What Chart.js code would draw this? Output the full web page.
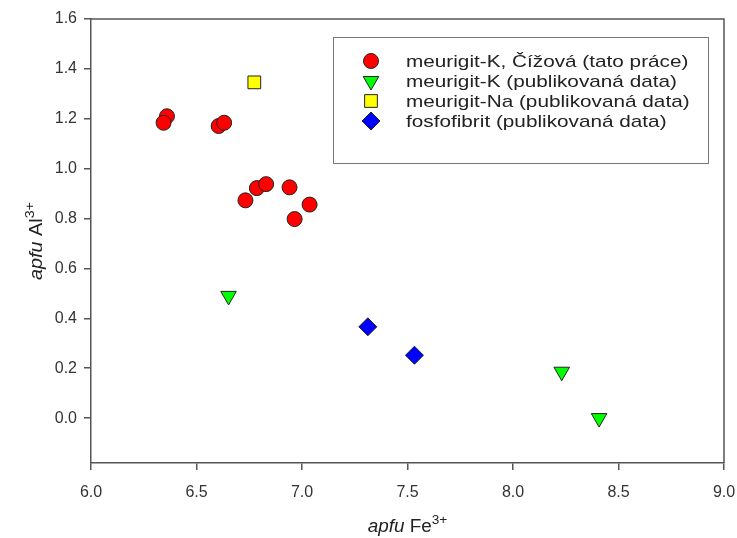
<!DOCTYPE html>
<html>
<head>
<meta charset="utf-8">
<script src="https://cdn.jsdelivr.net/npm/chart.js@4"></script>
<style>
  html, body { margin: 0; padding: 0; background: #fff; }
  #wrap { width: 737px; height: 538px; }
</style>
</head>
<body>
<div id="wrap"><canvas id="graf"></canvas></div>
<script>
// meurigit-K z Čížové + publikovaná data
const cizovaFe = [6.36, 6.344, 6.605, 6.631, 6.732, 6.786, 6.83, 6.941, 6.965, 7.036]
const cizovaAl = [1.21, 1.184, 1.171, 1.184, 0.873, 0.922, 0.938, 0.925, 0.798, 0.856]

const meurKFe = [6.652, 8.231, 8.408]
const meurKAl = [0.49, 0.186, 0.0]

const meurNaFe = [6.774]
const meurNaAl = [1.346]

const fosfoFe = [7.312, 7.533]
const fosfoAl = [0.366, 0.252]

const xTicks = [6.0, 6.5, 7.0, 7.5, 8.0, 8.5, 9.0]
const yTicks = [0.0, 0.2, 0.4, 0.6, 0.8, 1.0, 1.2, 1.4, 1.6]

const pary = (xs, ys) => xs.map((x, i) => ({ x, y: ys[i] }))

const PISMO = '"Liberation Sans", Arial, sans-serif'
Chart.defaults.font.family = PISMO
Chart.defaults.color = '#333'

// legenda uvnitř grafu (rámeček vpravo nahoře)
const legendaUvnitr = {
  id: 'legendaUvnitr',
  afterDraw(chart) {
    const c = chart.ctx
    c.save()
    c.strokeStyle = '#777'
    c.lineWidth = 1
    c.strokeRect(333.5, 37.5, 375, 126)
    c.textBaseline = 'middle'
    chart.data.datasets.forEach((ds, i) => {
      const y = 61 + i * 20
      c.fillStyle = ds.backgroundColor
      c.strokeStyle = ds.borderColor
      c.lineWidth = ds.borderWidth
      Chart.helpers.drawPoint(c, {
        pointStyle: ds.pointStyle,
        rotation: ds.rotation || 0,
        radius: ds.pointRadius,
        borderWidth: ds.borderWidth
      }, 371, y)
      // text je v předloze širší, proto vodorovné roztažení
      c.save()
      c.translate(406, y + 1)
      c.scale(1.22, 1)
      c.font = '17px ' + PISMO
      c.fillStyle = '#222'
      c.fillText(ds.label, 0, 0)
      c.restore()
    })
    c.restore()
  }
}

// rámeček (horní a pravá strana) + popisky os s horním indexem
const ramecek = {
  id: 'ramecek',
  beforeDatasetsDraw(chart) {
    const { left, right, top, bottom } = chart.chartArea
    const c = chart.ctx
    c.save()
    c.strokeStyle = '#555'
    c.lineWidth = 1.5
    c.beginPath()
    c.moveTo(left, top)
    c.lineTo(right, top)
    c.lineTo(right, bottom)
    c.stroke()
    c.restore()
  },
  afterDraw(chart) {
    const c = chart.ctx
    const { left, right, top, bottom } = chart.chartArea
    const popis = (jednotka, prvek) => {
      c.font = 'italic 18px ' + PISMO
      const w1 = c.measureText(jednotka + ' ').width
      c.font = '18px ' + PISMO
      const w2 = c.measureText(prvek).width
      c.font = '13px ' + PISMO
      const w3 = c.measureText('3+').width
      let px = -(w1 + w2 + w3) / 2
      c.textBaseline = 'alphabetic'
      c.textAlign = 'left'
      c.fillStyle = '#222'
      c.font = 'italic 18px ' + PISMO
      c.fillText(jednotka + ' ', px, 0)
      px += w1
      c.font = '18px ' + PISMO
      c.fillText(prvek, px, 0)
      px += w2
      c.font = '13px ' + PISMO
      c.fillText('3+', px, -8)
    }
    c.save()
    c.translate((left + right) / 2, 532)
    c.scale(1.05, 1)
    popis('apfu', 'Fe')
    c.restore()
    c.save()
    c.translate(42, (top + bottom) / 2)
    c.rotate(-Math.PI / 2)
    c.scale(1.1, 1)
    popis('apfu', 'Al')
    c.restore()
  }
}

const data = {
  datasets: [{
    label: 'meurigit-K, Čížová (tato práce)',
    data: pary(cizovaFe, cizovaAl),
    pointStyle: 'circle',
    pointRadius: 7.5,
    backgroundColor: '#ff0000',
    borderColor: '#222',
    borderWidth: 1
  }, {
    label: 'meurigit-K (publikovaná data)',
    data: pary(meurKFe, meurKAl),
    pointStyle: 'triangle',
    rotation: 180,
    pointRadius: 9,
    backgroundColor: '#00ff00',
    borderColor: '#222',
    borderWidth: 1
  }, {
    label: 'meurigit-Na (publikovaná data)',
    data: pary(meurNaFe, meurNaAl),
    pointStyle: 'rect',
    pointRadius: 9,
    backgroundColor: '#ffff00',
    borderColor: '#222',
    borderWidth: 1
  }, {
    label: 'fosfofibrit (publikovaná data)',
    data: pary(fosfoFe, fosfoAl),
    pointStyle: 'rectRot',
    pointRadius: 9,
    backgroundColor: '#0000ff',
    borderColor: '#222',
    borderWidth: 1
  }]
}

const config = {
  type: 'scatter',
  data,
  options: {
    responsive: true,
    maintainAspectRatio: false,
    animation: false,
    layout: { padding: { top: 19, right: 13, left: 0, bottom: 0 } },
    plugins: {
      legend: { display: false },
      tooltip: { enabled: false }
    },
    elements: { point: { hoverRadius: 7.5 } },
    scales: {
      x: {
        type: 'linear',
        min: 6.0,
        max: 9.0,
        afterBuildTicks: s => { s.ticks = xTicks.map(v => ({ value: v })) },
        afterFit: s => { s.height = 75; s.paddingLeft = 0; s.paddingRight = 0 },
        ticks: {
          font: { size: 16 },
          color: '#333',
          padding: 13,
          maxRotation: 0,
          callback: v => v.toFixed(1)
        },
        grid: { drawOnChartArea: false, tickLength: 7, color: '#555', lineWidth: 1.5 },
        border: { color: '#555', width: 1.5 }
      },
      y: {
        type: 'linear',
        min: -0.18,
        max: 1.6,
        afterBuildTicks: s => { s.ticks = yTicks.map(v => ({ value: v })) },
        afterFit: s => { s.width = 91; s.paddingTop = 0; s.paddingBottom = 0 },
        ticks: {
          font: { size: 16 },
          color: '#333',
          padding: 7,
          callback: v => v.toFixed(1)
        },
        grid: { drawOnChartArea: false, tickLength: 7, color: '#555', lineWidth: 1.5 },
        border: { color: '#555', width: 1.5 }
      }
    }
  },
  plugins: [ramecek, legendaUvnitr]
}

const graf = new Chart(document.getElementById('graf'), config)
</script>
</body>
</html>
